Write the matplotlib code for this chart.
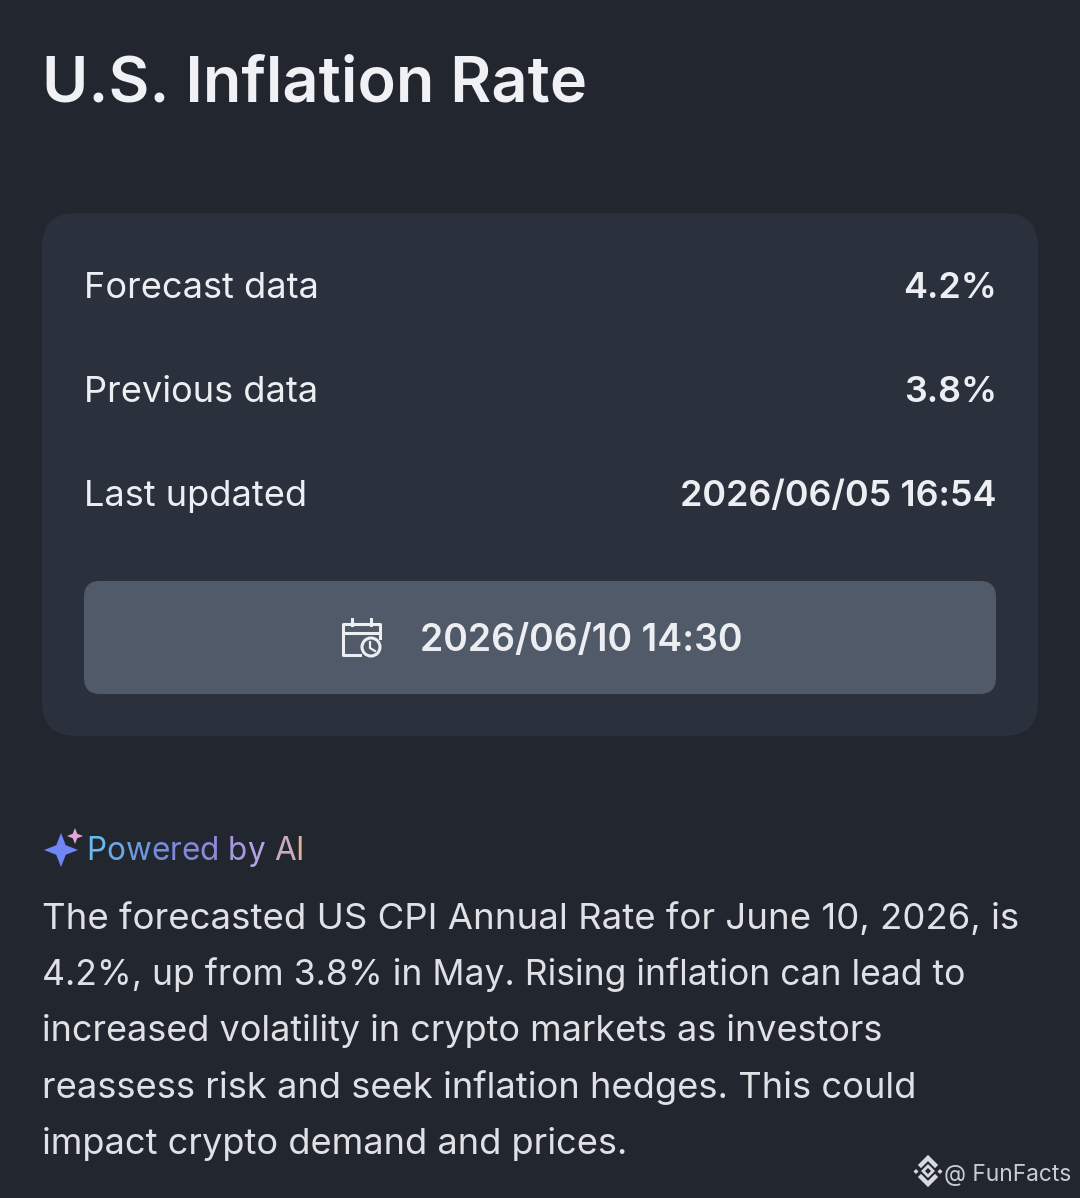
import matplotlib
matplotlib.use("Agg")
import matplotlib.pyplot as plt
from matplotlib.patches import FancyBboxPatch, Circle, Polygon
from matplotlib.colors import LinearSegmentedColormap

title = "U.S. Inflation Rate"
row_labels = ["Forecast data", "Previous data", "Last updated"]
row_values = ["4.2%", "3.8%", "2026/06/05 16:54"]
release_time = "2026/06/10 14:30"
ai_label = "Powered by AI"
body_lines = [
    "The forecasted US CPI Annual Rate for June 10, 2026, is",
    "4.2%, up from 3.8% in May. Rising inflation can lead to",
    "increased volatility in crypto markets as investors",
    "reassess risk and seek inflation hedges. This could",
    "impact crypto demand and prices.",
]
watermark = "@ FunFacts"

bg = "#22262f"
card = "#2a303c"
button = "#505a68"
white = "#eceef1"

plt.rcParams["font.family"] = ["Inter", "DejaVu Sans"]

W, H = 1080, 1198
fig = plt.figure(figsize=(W / 100, H / 100), dpi=100, facecolor=bg)
ax = fig.add_axes([0, 0, 1, 1])
ax.set_xlim(0, W)
ax.set_ylim(H, 0)
ax.axis("off")


def px(size):
    return size * 0.72


def rbox(x, y, w, h, r, color):
    ax.add_patch(FancyBboxPatch((x + r, y + r), w - 2 * r, h - 2 * r,
                                boxstyle="round,pad=%d,rounding_size=%d" % (r, r),
                                fc=color, ec="none"))


ax.text(42, 79, title, fontsize=px(63), fontweight="semibold", color="#f0f1f4", va="center_baseline")

rbox(42, 213, 996, 523, 34, card)
for y, lab, val in zip([285, 389, 493], row_labels, row_values):
    ax.text(84, y, lab, fontsize=px(36.2), color=white, va="center_baseline")
    ax.text(997, y, val, fontsize=px(36), fontweight="semibold", color=white, ha="right", va="center_baseline")

rbox(84, 581, 912, 113, 16, button)
ax.text(420, 637, release_time, fontsize=px(37.4), fontweight="semibold", color=white, va="center_baseline")

# calendar icon
ax.plot([362, 343, 343, 360], [624, 624, 655, 655], color=white, lw=2.2)
ax.plot([362, 380, 380], [624, 624, 638], color=white, lw=2.2)
ax.plot([343, 380], [633, 633], color=white, lw=2.2)
ax.plot([352, 352], [619, 625], color=white, lw=2.2)
ax.plot([371, 371], [619, 625], color=white, lw=2.2)
ax.add_patch(Circle((371, 647), 9, fc=button, ec=white, lw=2.2, zorder=3))
ax.plot([370, 370, 375], [642, 648, 651], color=white, lw=1.6, zorder=4)


# sparkle icons
def star(cx, cy, r, color):
    k = r * 0.28
    ax.add_patch(Polygon([(cx, cy - r), (cx + k, cy - k), (cx + r, cy), (cx + k, cy + k),
                          (cx, cy + r), (cx - k, cy + k), (cx - r, cy), (cx - k, cy - k)],
                         fc=color, ec="none"))


star(61, 850, 17, "#6f86f7")
star(75, 836, 8, "#e3a6d6")

# gradient label, one letter at a time
grad = LinearSegmentedColormap.from_list("ai", ["#6bb8ea", "#6f8fdc", "#8d86d6", "#b5a4e6", "#eab38f"])
renderer = fig.canvas.get_renderer()
probe = ax.text(0, 0, ai_label, fontsize=px(31.5), alpha=0)
full = probe.get_window_extent(renderer).width
for i, ch in enumerate(ai_label):
    probe.set_text(ai_label[:i] + "x")
    a = probe.get_window_extent(renderer).width
    probe.set_text("x")
    off = a - probe.get_window_extent(renderer).width
    ax.text(86.5 + off, 848, ch, fontsize=px(31.5), color=grad(off / full), va="center_baseline")
probe.remove()

line_sizes = [36.6, 35.6, 36.0, 36.3, 36.2]
for y, line, size in zip([915.5, 971.5, 1027.5, 1084.5, 1140.5], body_lines, line_sizes):
    ax.text(42, y, line, fontsize=px(size), color="#dfe1e5", va="center_baseline")

# watermark logo
logo = "#d8dadd"
ax.plot([921, 928, 935], [1165, 1158, 1165], color=logo, lw=3.2, solid_joinstyle="miter")
ax.plot([921, 928, 935], [1177, 1184, 1177], color=logo, lw=3.2, solid_joinstyle="miter")
ax.add_patch(Polygon([(928, 1166), (933, 1171), (928, 1176), (923, 1171)], fc="none", ec=logo, lw=2))
for cx in [916, 940]:
    ax.add_patch(Polygon([(cx, 1169), (cx + 2.5, 1171.5), (cx, 1174), (cx - 2.5, 1171.5)], fc=logo, ec="none"))
ax.text(1071, 1172, watermark, fontsize=px(22.8), color="#c9ccd1", ha="right", va="center_baseline")

fig.savefig("out.png", dpi=100, facecolor=bg)
